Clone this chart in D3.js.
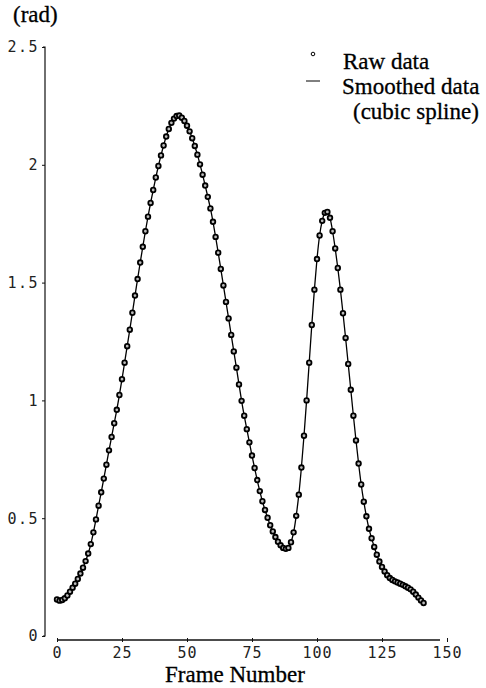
<!DOCTYPE html>
<html>
<head>
<meta charset="utf-8">
<script src="https://cdn.jsdelivr.net/npm/d3@7"></script>
<style>
  html, body { margin: 0; padding: 0; background: #fff; }
  svg { display: block; }
</style>
</head>
<body>
<svg id="chart" width="486" height="688"></svg>
<script>
// ---- data (frame number = index) ----
const angleValues = [
  0.155, 0.150, 0.153, 0.160, 0.172, 0.188, 0.205, 0.222, 0.242, 0.265,
  0.290, 0.318, 0.350, 0.390, 0.440, 0.495, 0.553, 0.610, 0.668, 0.727,
  0.788, 0.845, 0.903, 0.960, 1.023, 1.090, 1.160, 1.230, 1.300, 1.372,
  1.445, 1.515, 1.585, 1.652, 1.718, 1.780, 1.838, 1.893, 1.946, 1.995,
  2.040, 2.082, 2.120, 2.152, 2.178, 2.196, 2.207, 2.209, 2.200, 2.186,
  2.166, 2.142, 2.113, 2.080, 2.043, 2.002, 1.958, 1.912, 1.864, 1.815,
  1.758, 1.694, 1.627, 1.558, 1.488, 1.418, 1.348, 1.278, 1.208, 1.139,
  1.068, 0.998, 0.935, 0.878, 0.822, 0.766, 0.713, 0.662, 0.615, 0.572,
  0.535, 0.502, 0.470, 0.444, 0.420, 0.400, 0.385, 0.374, 0.370, 0.374,
  0.398, 0.440, 0.510, 0.600, 0.715, 0.850, 1.000, 1.160, 1.320, 1.470,
  1.600, 1.700, 1.762, 1.796, 1.800, 1.775, 1.718, 1.645, 1.562, 1.470,
  1.370, 1.265, 1.155, 1.045, 0.935, 0.830, 0.732, 0.643, 0.570, 0.508,
  0.455, 0.415, 0.378, 0.345, 0.316, 0.293, 0.274, 0.258, 0.246, 0.238,
  0.232, 0.227, 0.222, 0.217, 0.211, 0.205, 0.198, 0.188, 0.176, 0.163,
  0.151, 0.140
];
const xTicks = [0, 25, 50, 75, 100, 125, 150];
const yTicks = [0, 0.5, 1, 1.5, 2, 2.5];
const yTickLabels = ["0", "0.5", "1", "1.5", "2", "2.5"];
const yUnitLabel = "(rad)";
const xAxisTitle = "Frame Number";
const legendLabels = ["Raw data", "Smoothed data", "(cubic spline)"];

// ---- layout ----
const svg = d3.select("#chart");
const x = d3.scaleLinear().domain([0, 150]).range([57, 447]);
const y = d3.scaleLinear().domain([0, 2.5]).range([636, 47]);
const yAxisX = 45;
const xAxisY = 640;
const monoFont = "'DejaVu Sans Mono', monospace";
const serifFont = "'Liberation Serif', 'Times New Roman', serif";

const points = angleValues.map((v, i) => ({ f: i, v: v }));

// ---- y axis ----
const gy = svg.append("g").attr("transform", `translate(${yAxisX},0)`)
  .call(d3.axisLeft(y).tickValues(yTicks).tickSize(3).tickPadding(3)
    .tickFormat((d, i) => yTickLabels[i]));
gy.select(".domain").attr("d", `M-2,${y(2.5)}H0V${y(0)}H-2`).attr("stroke", "#111").attr("stroke-width", 1.2);
gy.selectAll(".tick line").attr("stroke", "#111");
gy.selectAll(".tick text")
  .attr("font-family", monoFont).attr("font-size", 15)
  .attr("letter-spacing", "1.5px").attr("fill", "#222");

// ---- x axis ----
const gx = svg.append("g").attr("transform", `translate(0,${xAxisY})`)
  .call(d3.axisBottom(x).tickValues(xTicks).tickSize(2).tickPadding(5)
    .tickFormat(d3.format("d")));
gx.select(".domain").attr("d", `M${x(0)},0H${x(150) - 7}`).attr("stroke", "#111").attr("stroke-width", 1.3);
gx.selectAll(".tick line").attr("y1", -2).attr("y2", 2).attr("stroke", "#111");
gx.selectAll(".tick text")
  .attr("font-family", monoFont).attr("font-size", 15)
  .attr("letter-spacing", "1px").attr("fill", "#222");

// ---- smoothed curve (natural cubic spline) ----
svg.append("path")
  .datum(points)
  .attr("fill", "none")
  .attr("stroke", "#000")
  .attr("stroke-width", 1.3)
  .attr("d", d3.line().x(d => x(d.f)).y(d => y(d.v)).curve(d3.curveNatural));

// ---- raw data points ----
svg.append("g").selectAll("circle")
  .data(points)
  .join("circle")
  .attr("cx", d => x(d.f))
  .attr("cy", d => y(d.v))
  .attr("r", 2.3)
  .attr("fill", "#bbb")
  .attr("stroke", "#000")
  .attr("stroke-width", 1.8);

// ---- titles ----
svg.append("text")
  .attr("x", 13).attr("y", 22)
  .attr("font-family", serifFont).attr("font-size", 23).attr("fill", "#000")
  .attr("stroke", "#000").attr("stroke-width", 0.3)
  .text(yUnitLabel);

svg.append("text")
  .attr("x", 165).attr("y", 682)
  .attr("font-family", serifFont).attr("font-size", 23).attr("fill", "#000")
  .attr("stroke", "#000").attr("stroke-width", 0.3)
  .text(xAxisTitle);

// ---- legend ----
const leg = svg.append("g");
leg.append("circle").attr("cx", 313).attr("cy", 54).attr("r", 1.8)
  .attr("fill", "#fff").attr("stroke", "#000").attr("stroke-width", 1);
leg.append("line").attr("x1", 306).attr("x2", 320).attr("y1", 81).attr("y2", 81)
  .attr("stroke", "#000").attr("stroke-width", 1);
const legX = [343, 342, 353];
const legY = [69, 94, 119];
legendLabels.forEach((t, i) => {
  leg.append("text")
    .attr("x", legX[i]).attr("y", legY[i])
    .attr("font-family", serifFont).attr("font-size", 23).attr("fill", "#000")
    .attr("stroke", "#000").attr("stroke-width", 0.3)
    .text(t);
});
</script>
</body>
</html>
